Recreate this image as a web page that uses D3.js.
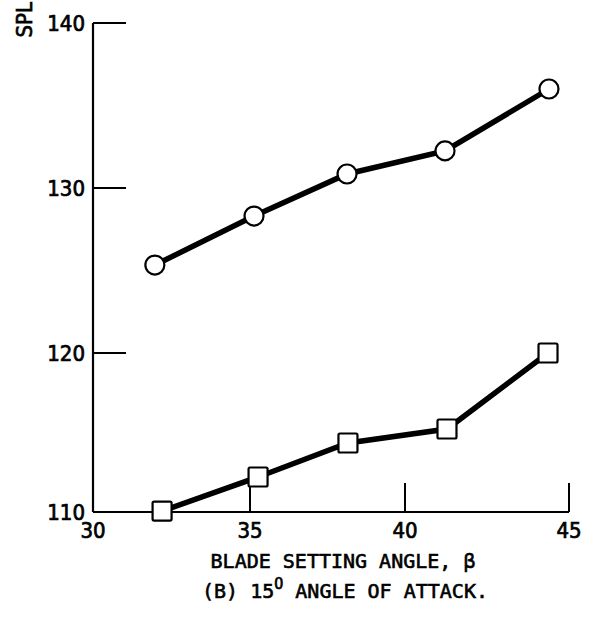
<!DOCTYPE html>
<html>
<head>
<meta charset="utf-8">
<script src="https://cdn.jsdelivr.net/npm/d3@7"></script>
<style>
  html, body { margin: 0; padding: 0; background: #fff; }
  svg { display: block; }
  .num { font-family: "Liberation Sans Narrow", "DejaVu Sans Condensed", sans-serif; font-size: 22px; fill: #000; stroke: #000; stroke-width: 0.7px; }
  .ttl { font-family: "DejaVu Sans Mono", monospace; font-size: 20px; fill: #000; stroke: #000; stroke-width: 0.6px; }
</style>
</head>
<body>
<div id="chart"></div>
<script>
(function() {
  var xTicks = [30, 35, 40, 45];
  var yTicks = [110, 120, 130, 140];

  var circleX = [31.97, 35.13, 38.13, 41.22, 44.39];
  var circleY = [125.33, 128.3, 130.85, 132.25, 136.0];

  var squareX = [32.2, 35.26, 38.16, 41.28, 44.36];
  var squareY = [110.06, 112.2, 114.34, 115.22, 120.0];

  var svg, x, y, line, circles, squares, zip;

  svg = d3.select("#chart").append("svg").attr("width", 614).attr("height", 619);

  // hand drawn axes are slightly uneven, so map each tick separately
  x = d3.scaleLinear().domain(xTicks).range([93, 250, 405, 569]);
  y = d3.scaleLinear().domain(yTicks).range([512, 353, 188, 23]);

  zip = function(xs, ys) {
    return xs.map(function(v, i) { return [v, ys[i]]; });
  };
  circles = zip(circleX, circleY);
  squares = zip(squareX, squareY);

  // y axis
  svg.append("line")
    .attr("x1", x(30)).attr("x2", x(30))
    .attr("y1", y(140)).attr("y2", y(110))
    .attr("stroke", "#000").attr("stroke-width", 2.2);

  svg.selectAll(".ytick").data(yTicks.slice(1)).enter().append("line")
    .attr("x1", x(30)).attr("x2", x(30) + 33)
    .attr("y1", function(d) { return y(d); })
    .attr("y2", function(d) { return y(d); })
    .attr("stroke", "#000").attr("stroke-width", 2.2);

  svg.selectAll(".ylab").data(yTicks).enter().append("text")
    .attr("class", "num")
    .attr("x", 85)
    .attr("y", function(d) { return y(d) + 8; })
    .attr("text-anchor", "end")
    .text(function(d) { return d; });

  // x axis
  svg.append("line")
    .attr("x1", x(30)).attr("x2", x(45))
    .attr("y1", y(110)).attr("y2", y(110))
    .attr("stroke", "#000").attr("stroke-width", 2.2);

  svg.selectAll(".xtick").data(xTicks.slice(1)).enter().append("line")
    .attr("x1", function(d) { return x(d); })
    .attr("x2", function(d) { return x(d); })
    .attr("y1", y(110)).attr("y2", y(110) - 29)
    .attr("stroke", "#000").attr("stroke-width", 2);

  svg.selectAll(".xlab").data(xTicks).enter().append("text")
    .attr("class", "num")
    .attr("x", function(d) { return x(d); })
    .attr("y", 538)
    .attr("text-anchor", "middle")
    .text(function(d) { return d; });

  svg.append("text")
    .attr("class", "num")
    .attr("transform", "translate(32,2) rotate(-90)")
    .attr("text-anchor", "end")
    .text("SPL");

  svg.append("text")
    .attr("class", "ttl")
    .attr("x", 343).attr("y", 568)
    .attr("text-anchor", "middle")
    .text("BLADE SETTING ANGLE, \u03b2");

  var sub = svg.append("text")
    .attr("class", "ttl")
    .attr("x", 345).attr("y", 598)
    .attr("text-anchor", "middle");
  sub.append("tspan").text("(B) 15");
  sub.append("tspan").attr("dy", -9).attr("font-size", 15).text("O");
  sub.append("tspan").attr("dy", 9).text(" ANGLE OF ATTACK.");

  line = d3.line()
    .x(function(d) { return x(d[0]); })
    .y(function(d) { return y(d[1]); });

  [circles, squares].forEach(function(s) {
    svg.append("path")
      .attr("d", line(s))
      .attr("fill", "none")
      .attr("stroke", "#000")
      .attr("stroke-width", 5.5);
  });

  svg.selectAll(".circ").data(circles).enter().append("circle")
    .attr("cx", function(d) { return x(d[0]); })
    .attr("cy", function(d) { return y(d[1]); })
    .attr("r", 9.5)
    .attr("fill", "#fff").attr("stroke", "#000").attr("stroke-width", 2.2);

  svg.selectAll(".sq").data(squares).enter().append("rect")
    .attr("x", function(d) { return x(d[0]) - 9.5; })
    .attr("y", function(d) { return y(d[1]) - 9.5; })
    .attr("width", 19).attr("height", 19)
    .attr("rx", 1.5)
    .attr("fill", "#fff").attr("stroke", "#000").attr("stroke-width", 2.2);
}).call(this);
</script>
</body>
</html>
